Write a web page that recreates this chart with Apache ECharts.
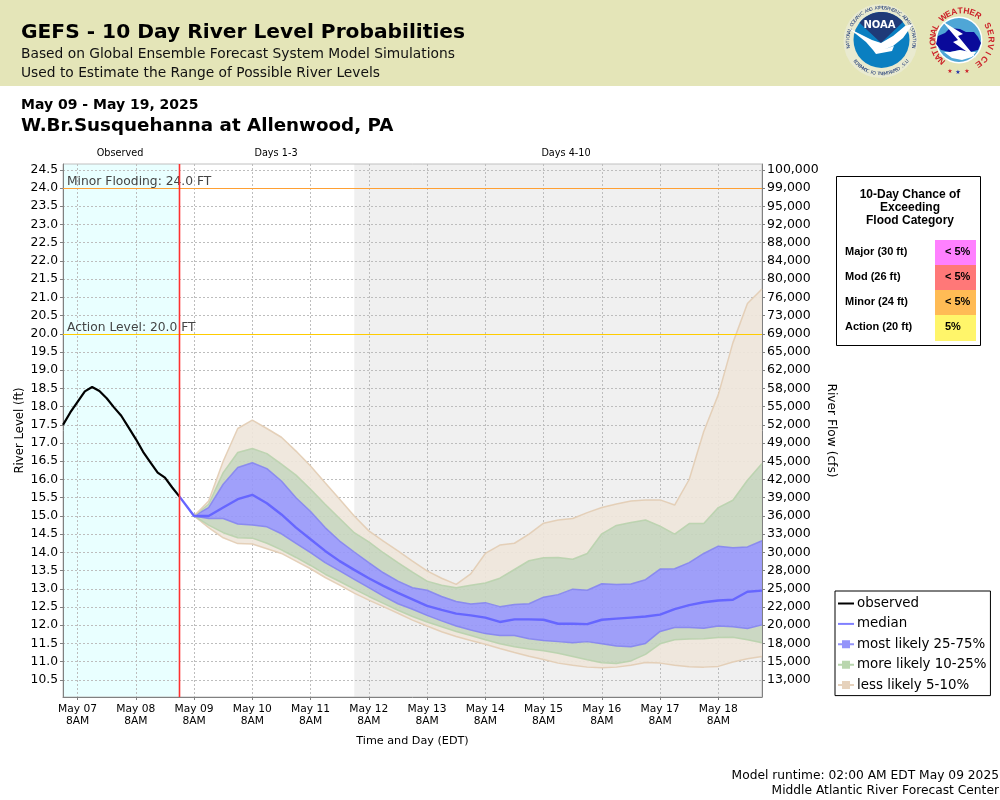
<!DOCTYPE html>
<html>
<head>
<meta charset="utf-8">
<title>GEFS - 10 Day River Level Probabilities</title>
<script src="https://cdn.jsdelivr.net/npm/echarts@6/dist/echarts.min.js"></script>
<style>
html, body { margin: 0; padding: 0; background: #fff; }
#main { width: 1000px; height: 800px; }
</style>
</head>
<body>
<div id="main"></div>
<script>
// axis ticks
var levelTicks = [10.5, 11, 11.5, 12, 12.5, 13, 13.5, 14, 14.5, 15, 15.5, 16, 16.5, 17, 17.5, 18, 18.5, 19, 19.5, 20, 20.5, 21, 21.5, 22, 22.5, 23, 23.5, 24, 24.5];
var flowTicks = ['13,000', '15,000', '18,000', '20,000', '22,000', '25,000', '28,000', '30,000', '33,000', '36,000', '39,000', '42,000', '45,000', '49,000', '52,000', '55,000', '58,000', '62,000', '65,000', '69,000', '73,000', '76,000', '80,000', '84,000', '88,000', '92,000', '95,000', '99,000', '100,000'];
var dayTicks = ['2025-05-07T08:00Z', '2025-05-08T08:00Z', '2025-05-09T08:00Z', '2025-05-10T08:00Z', '2025-05-11T08:00Z', '2025-05-12T08:00Z', '2025-05-13T08:00Z', '2025-05-14T08:00Z', '2025-05-15T08:00Z', '2025-05-16T08:00Z', '2025-05-17T08:00Z', '2025-05-18T08:00Z'];

// axis limits
var levelMin = 10.03, levelMax = 24.66;
var startTime = '2025-05-07T02:00Z';
var runTime = '2025-05-09T02:00Z';
var days4Time = '2025-05-12T02:00Z';
var endTime = '2025-05-19T02:00Z';
var firstForecast = '2025-05-09T08:00Z';

// observed stage, every 3 hours from startTime
var observed = [17.5, 17.84, 18.13, 18.42, 18.54, 18.43, 18.23, 17.98, 17.75, 17.43, 17.11, 16.76, 16.47, 16.19, 16.05, 15.78, 15.53];

// forecast percentiles, every 6 hours from firstForecast
var median = [15, 15, 15.23, 15.46, 15.58, 15.35, 15.04, 14.68, 14.36, 14.04, 13.76, 13.52, 13.29, 13.08, 12.89, 12.71, 12.53, 12.42, 12.32, 12.27, 12.21, 12.09, 12.16, 12.16, 12.15, 12.04, 12.04, 12.03, 12.15, 12.18, 12.21, 12.24, 12.29, 12.44, 12.55, 12.63, 12.68, 12.7, 12.92, 12.95];
var p25 = [15, 14.93, 14.93, 14.78, 14.75, 14.7, 14.51, 14.25, 13.99, 13.72, 13.49, 13.26, 13.03, 12.8, 12.59, 12.44, 12.27, 12.12, 11.98, 11.87, 11.77, 11.72, 11.72, 11.63, 11.58, 11.55, 11.52, 11.55, 11.49, 11.43, 11.41, 11.5, 11.83, 11.94, 11.94, 11.92, 11.98, 11.96, 11.91, 12.01];
var p75 = [15, 15.23, 15.87, 16.33, 16.46, 16.3, 15.96, 15.5, 15.12, 14.68, 14.31, 14.01, 13.72, 13.44, 13.21, 13.03, 12.96, 12.79, 12.65, 12.58, 12.62, 12.51, 12.57, 12.59, 12.77, 12.84, 12.99, 12.96, 13.14, 13.12, 13.13, 13.25, 13.54, 13.55, 13.72, 13.97, 14.17, 14.13, 14.15, 14.32];
var p10 = [15, 14.75, 14.54, 14.4, 14.39, 14.25, 14.07, 13.86, 13.64, 13.4, 13.2, 12.99, 12.79, 12.6, 12.41, 12.24, 12.09, 11.96, 11.83, 11.72, 11.6, 11.49, 11.41, 11.35, 11.3, 11.23, 11.14, 11.05, 10.97, 10.95, 11.02, 11.2, 11.49, 11.6, 11.62, 11.63, 11.66, 11.67, 11.6, 11.52];
var p90 = [15, 15.32, 16.19, 16.74, 16.85, 16.71, 16.42, 16.12, 15.73, 15.32, 14.93, 14.54, 14.29, 13.99, 13.72, 13.46, 13.21, 13.1, 13.03, 13.1, 13.16, 13.29, 13.53, 13.77, 13.85, 13.86, 13.81, 13.97, 14.51, 14.74, 14.82, 14.89, 14.72, 14.5, 14.79, 14.79, 15.23, 15.43, 15.98, 16.44];
var p5 = [15, 14.68, 14.4, 14.24, 14.23, 14.1, 13.97, 13.76, 13.55, 13.31, 13.1, 12.88, 12.69, 12.51, 12.33, 12.14, 11.98, 11.82, 11.69, 11.58, 11.48, 11.36, 11.25, 11.15, 11.06, 10.96, 10.9, 10.85, 10.83, 10.85, 10.9, 10.98, 10.96, 10.9, 10.86, 10.85, 10.87, 10.99, 11.08, 11.14];
var p95 = [15, 15.41, 16.5, 17.4, 17.63, 17.4, 17.16, 16.78, 16.37, 15.91, 15.46, 15, 14.59, 14.31, 14.04, 13.76, 13.49, 13.29, 13.12, 13.41, 13.97, 14.2, 14.25, 14.5, 14.8, 14.89, 14.93, 15.09, 15.23, 15.33, 15.41, 15.44, 15.44, 15.3, 16, 17.32, 18.33, 19.75, 20.83, 21.23];
var medianAtRunTime = 15.53;

// flood chance table
var chanceRows = ['Major (30 ft)', 'Mod (26 ft)', 'Minor (24 ft)', 'Action (20 ft)'];
var chanceValues = ['< 5%', '< 5%', '< 5%', '5%'];
var chanceColors = ['#FF80FF', '#FF7878', '#FFBB55', '#FFF56A'];

var FONT = '"DejaVu Sans"';
var TAN = 'rgba(238,229,218,0.9)', TAN_EDGE = 'rgba(226,204,178,0.9)';
var GREEN = 'rgba(198,213,190,0.9)', GREEN_EDGE = 'rgba(184,210,172,0.9)';
var BLUE = 'rgba(150,150,250,0.9)', BLUE_EDGE = 'rgba(132,132,240,0.9)';

var HOUR = 3600000;
var t0 = Date.parse(startTime), tf = Date.parse(firstForecast);
var dayValues = dayTicks.map(function (d) { return Date.parse(d); });

function timed(values, start, stepHours) {
    return values.map(function (v, i) { return [start + i * stepHours * HOUR, v]; });
}

// band thickness on top of the previous percentile, for the stack
function thickness(upper, lower) {
    return upper.map(function (v, i) { return [tf + i * 6 * HOUR, +(v - lower[i]).toFixed(2)]; });
}

function band(name, data, edge, fill) {
    var s = {
        name: name, type: 'line', stack: 'percentiles', data: data, showSymbol: false,
        lineStyle: { color: edge, width: 1.5 }, itemStyle: { color: edge }, silent: true, z: 2
    };
    if (fill) {
        s.areaStyle = { color: fill, opacity: 1 };
    }
    return s;
}

var legendLine = 'path://M0 6H16V8H0Z';
var legendBox = 'path://M0 3H4V0H12V3H16V5H12V8H4V5H0Z';

// ---- header, table and logos
function text(str, x, y, font, fill, align) {
    return {
        type: 'text', silent: true, z: 20,
        style: { text: str, x: x, y: y, font: font, fill: fill || '#000', textAlign: align || 'left', textVerticalAlign: 'middle' }
    };
}

function rect(x, y, w, h, fill, stroke) {
    return {
        type: 'rect', silent: true, z: 10, shape: { x: x, y: y, width: w, height: h },
        style: { fill: fill, stroke: stroke || null, lineWidth: 1 }
    };
}

function circle(cx, cy, r, fill, z) {
    return { type: 'circle', silent: true, z: z || 11, shape: { cx: cx, cy: cy, r: r }, style: { fill: fill } };
}

function polygon(points, fill, z) {
    return { type: 'polygon', silent: true, z: z || 12, shape: { points: points }, style: { fill: fill } };
}

// one rotated text per letter along a circle; angles in degrees clockwise from the top
function arcText(str, cx, cy, r, from, to, font, fill, inward) {
    var out = [];
    for (var i = 0; i < str.length; i++) {
        var deg = from + (to - from) * (str.length == 1 ? 0.5 : i / (str.length - 1));
        var rad = deg * Math.PI / 180;
        out.push({
            type: 'text', silent: true, z: 13,
            x: cx + r * Math.sin(rad), y: cy - r * Math.cos(rad),
            rotation: -(inward ? rad + Math.PI : rad),
            style: { text: str.charAt(i), x: 0, y: 0, font: font, fill: fill, textAlign: 'center', textVerticalAlign: 'middle' }
        });
    }
    return out;
}

function circlePoints(cx, cy, r, from, to, n) {
    var pts = [];
    for (var i = 0; i <= n; i++) {
        var rad = (from + (to - from) * i / n) * Math.PI / 180;
        pts.push([cx + r * Math.sin(rad), cy - r * Math.cos(rad)]);
    }
    return pts;
}

var graphics = [
    rect(0, 0, 1000, 86, '#E4E5B8'),
    text('GEFS - 10 Day River Level Probabilities', 21, 33, 'bold 20.2px ' + FONT),
    text('Based on Global Ensemble Forecast System Model Simulations', 21, 54, '13.8px ' + FONT, '#111'),
    text('Used to Estimate the Range of Possible River Levels', 21, 73, '13.8px ' + FONT, '#111'),
    text('May 09 - May 19, 2025', 21, 105.5, 'bold 14px ' + FONT),
    text('W.Br.Susquehanna at Allenwood, PA', 21, 126, 'bold 18.3px ' + FONT),
    text('Observed', 120, 153.5, '9.7px ' + FONT, '#000', 'center'),
    text('Days 1-3', 276, 153.5, '9.7px ' + FONT, '#000', 'center'),
    text('Days 4-10', 566, 153.5, '9.7px ' + FONT, '#000', 'center'),
    text('Model runtime: 02:00 AM EDT May 09 2025', 999, 775.5, '12.25px ' + FONT, '#000', 'right'),
    text('Middle Atlantic River Forecast Center', 999, 791, '12.25px ' + FONT, '#000', 'right'),
    // chance table
    rect(836.5, 176.5, 144, 169, '#fff', '#000'),
    text('10-Day Chance of', 910, 195, 'bold 12px "Liberation Sans"', '#000', 'center'),
    text('Exceeding', 910, 208, 'bold 12px "Liberation Sans"', '#000', 'center'),
    text('Flood Category', 910, 221, 'bold 12px "Liberation Sans"', '#000', 'center')
];
chanceRows.forEach(function (label, i) {
    var y = 240 + i * 25;
    graphics.push(rect(935, y, 41, i == 3 ? 26 : 25, chanceColors[i]));
    graphics.push(text(label, 845, y + 11.5, 'bold 11px "Liberation Sans"'));
    graphics.push(text(chanceValues[i], 945, y + 11.5, 'bold 11px "Liberation Sans"'));
});

// NOAA logo
graphics.push(circle(880.5, 41, 37, '#E9EAD0', 11));
graphics.push(circle(881.5, 40, 28, '#0A7FC1', 12));
graphics.push(polygon(circlePoints(881.5, 40, 28, -52, 50, 24).concat([[881, 43]]), '#1F3A78', 13));
graphics.push(polygon([[848, 28], [860, 34], [872, 40], [881, 43], [893, 36], [905, 26], [913, 24], [903, 38], [893, 46], [885, 49], [894, 46], [892, 51], [876, 54], [873, 50], [866, 42], [856, 34]], '#fff', 14));
graphics.push(text('NOAA', 879.5, 25, 'bold 10px "DejaVu Sans"', '#fff', 'center'));
graphics = graphics.concat(arcText('NATIONAL OCEANIC AND ATMOSPHERIC ADMINISTRATION', 881, 41, 33, -100, 100, '4.6px "DejaVu Sans"', '#1F3A78'));
graphics = graphics.concat(arcText('U.S. DEPARTMENT OF COMMERCE', 881, 41, 33, 128, 232, '4.6px "DejaVu Sans"', '#1F3A78', true));

// NWS logo
graphics.push(circle(959, 40, 23.5, '#fff', 11));
graphics.push(circle(959, 40, 22, '#4FA6D6', 12));
graphics.push(polygon([[936, 44], [938, 36], [945, 33], [950, 28], [960, 29], [966, 32], [974, 32], [978, 37], [981, 43], [978, 50], [970, 52], [960, 50], [950, 52], [941, 50]], '#0A0A9A', 13));
graphics.push(polygon([[944, 52], [952, 58], [962, 60], [972, 57], [976, 52], [970, 52], [960, 50], [950, 52]], '#fff', 13));
graphics.push(polygon([[942, 21], [963, 34], [958, 36], [976, 58], [953, 42], [958, 40]], '#fff', 14));
graphics = graphics.concat(arcText('NATIONAL', 962, 40, 29, -136, -63, 'bold 8.5px "Liberation Sans"', '#CC2229'));
graphics = graphics.concat(arcText('WEATHER', 962, 40, 29, -40, 33, 'bold 8.5px "Liberation Sans"', '#CC2229'));
graphics = graphics.concat(arcText('SERVICE', 962, 40, 29, 61, 145, 'bold 8.5px "Liberation Sans"', '#CC2229'));
graphics.push(text('★', 950, 71, '6px "DejaVu Sans"', '#CC2229', 'center'));
graphics.push(text('★', 958, 72, '6px "DejaVu Sans"', '#2233AA', 'center'));
graphics.push(text('★', 967, 71, '6px "DejaVu Sans"', '#CC2229', 'center'));

// ---- chart
var myChart = echarts.init(document.getElementById('main'), null, { renderer: 'canvas' });

var gridLine = { show: true, lineStyle: { color: '#BDBDBD', type: [2, 2], width: 1 } };

var option = {
    animation: false,
    useUTC: true,
    backgroundColor: '#fff',
    textStyle: { fontFamily: FONT },
    grid: { left: 63, top: 164, width: 699, height: 533, show: true, borderColor: '#C0C0C0', borderWidth: 1, outerBoundsMode: 'none' },
    legend: {
        left: 835, top: 591, orient: 'vertical', padding: [6, 4, 4, 3],
        borderColor: '#000', borderWidth: 1, backgroundColor: '#fff',
        itemWidth: 16, itemHeight: 14, itemGap: 7.4, selectedMode: false, align: 'left',
        textStyle: { fontFamily: FONT, fontSize: 13.4, color: '#000', padding: [0, 0, 0, -2] },
        data: [
            { name: 'observed', icon: legendLine, itemStyle: { color: '#000' } },
            { name: 'median', icon: legendLine, itemStyle: { color: '#8080FF' } },
            { name: 'most likely 25-75%', icon: legendBox, itemStyle: { color: '#9494FA' } },
            { name: 'more likely 10-25%', icon: legendBox, itemStyle: { color: '#B9D6AE' } },
            { name: 'less likely 5-10%', icon: legendBox, itemStyle: { color: '#E6D2BC' } }
        ]
    },
    xAxis: {
        type: 'time', min: t0, max: Date.parse(endTime),
        name: 'Time and Day (EDT)', nameLocation: 'middle', nameGap: 39, nameMoveOverlap: false,
        nameTextStyle: { fontFamily: FONT, fontSize: 11.2, color: '#000' },
        axisLine: { lineStyle: { color: '#808080', width: 1 } },
        axisTick: { show: true, length: 3, lineStyle: { color: '#808080' }, customValues: dayValues },
        axisLabel: {
            customValues: dayValues, margin: 6, fontFamily: FONT, fontSize: 10.7, color: '#000', lineHeight: 12,
            formatter: '{MMM} {dd}\n8AM'
        },
        splitLine: gridLine
    },
    yAxis: [{
        type: 'value', min: levelMin, max: levelMax,
        name: 'River Level (ft)', nameLocation: 'middle', nameGap: 37, nameMoveOverlap: false,
        nameTextStyle: { fontFamily: FONT, fontSize: 11.7, color: '#000' },
        axisLine: { show: true, lineStyle: { color: '#808080', width: 1 } },
        axisTick: { show: true, length: 3, lineStyle: { color: '#808080' }, customValues: levelTicks },
        axisLabel: {
            customValues: levelTicks, margin: 5, fontFamily: FONT, fontSize: 12.3, color: '#000', padding: [7, 0, 0, 0],
            formatter: function (value) { return value.toFixed(1); }
        },
        splitLine: gridLine
    }, {
        type: 'value', min: levelMin, max: levelMax, position: 'right',
        name: 'River Flow (cfs)', nameLocation: 'middle', nameGap: 63, nameRotate: -90, nameMoveOverlap: false,
        nameTextStyle: { fontFamily: FONT, fontSize: 12.2, color: '#000' },
        axisLine: { show: true, lineStyle: { color: '#808080', width: 1 } },
        axisTick: { show: true, length: 3, lineStyle: { color: '#808080' }, customValues: levelTicks },
        axisLabel: {
            customValues: levelTicks, margin: 5, fontFamily: FONT, fontSize: 12.5, color: '#000', padding: [7, 0, 0, 0],
            formatter: function (value) { return flowTicks[levelTicks.indexOf(value)]; }
        },
        splitLine: { show: false }
    }],
    series: [
        band('p5 edge', timed(p5, tf, 6), TAN_EDGE),
        band('lower tan', thickness(p10, p5), GREEN_EDGE, TAN),
        band('lower green', thickness(p25, p10), BLUE_EDGE, GREEN),
        band('most likely 25-75%', thickness(p75, p25), BLUE_EDGE, BLUE),
        band('more likely 10-25%', thickness(p90, p75), GREEN_EDGE, GREEN),
        band('less likely 5-10%', thickness(p95, p90), TAN_EDGE, TAN),
        {
            name: 'median', type: 'line', showSymbol: false, silent: true, z: 3,
            data: [[Date.parse(runTime), medianAtRunTime]].concat(timed(median, tf, 6)),
            lineStyle: { color: '#6666FF', width: 2.4 }, itemStyle: { color: '#6666FF' }
        },
        {
            name: 'observed', type: 'line', showSymbol: false, silent: true, z: 4,
            data: timed(observed, t0, 3),
            lineStyle: { color: '#000', width: 2.2 }, itemStyle: { color: '#000' },
            markArea: {
                silent: true, z: -1,
                data: [
                    [{ xAxis: t0, itemStyle: { color: '#E9FFFF' } }, { xAxis: Date.parse(runTime) }],
                    [{ xAxis: Date.parse(days4Time), itemStyle: { color: '#F0F0F0' } }, { xAxis: Date.parse(endTime) }]
                ]
            },
            markLine: {
                silent: true, symbol: 'none', animation: false, z: 5,
                data: [
                    { yAxis: 24, lineStyle: { color: '#FFA033', type: 'solid', width: 1 }, label: { formatter: 'Minor Flooding: 24.0 FT' } },
                    { yAxis: 20, lineStyle: { color: '#FFCC00', type: 'solid', width: 1 }, label: { formatter: 'Action Level: 20.0 FT' } }
                ],
                label: { position: 'insideStartTop', distance: [4, 0], fontFamily: FONT, fontSize: 12.3, color: '#444' }
            }
        },
        {
            // forecast start marker
            name: 'model run', type: 'line', showSymbol: false, silent: true, z: 50,
            data: [[Date.parse(runTime), levelMin], [Date.parse(runTime), levelMax]],
            lineStyle: { color: '#FF3030', width: 1.6 }, itemStyle: { color: '#FF3030' }
        }
    ],
    graphic: graphics
};

myChart.setOption(option);
</script>
</body>
</html>
